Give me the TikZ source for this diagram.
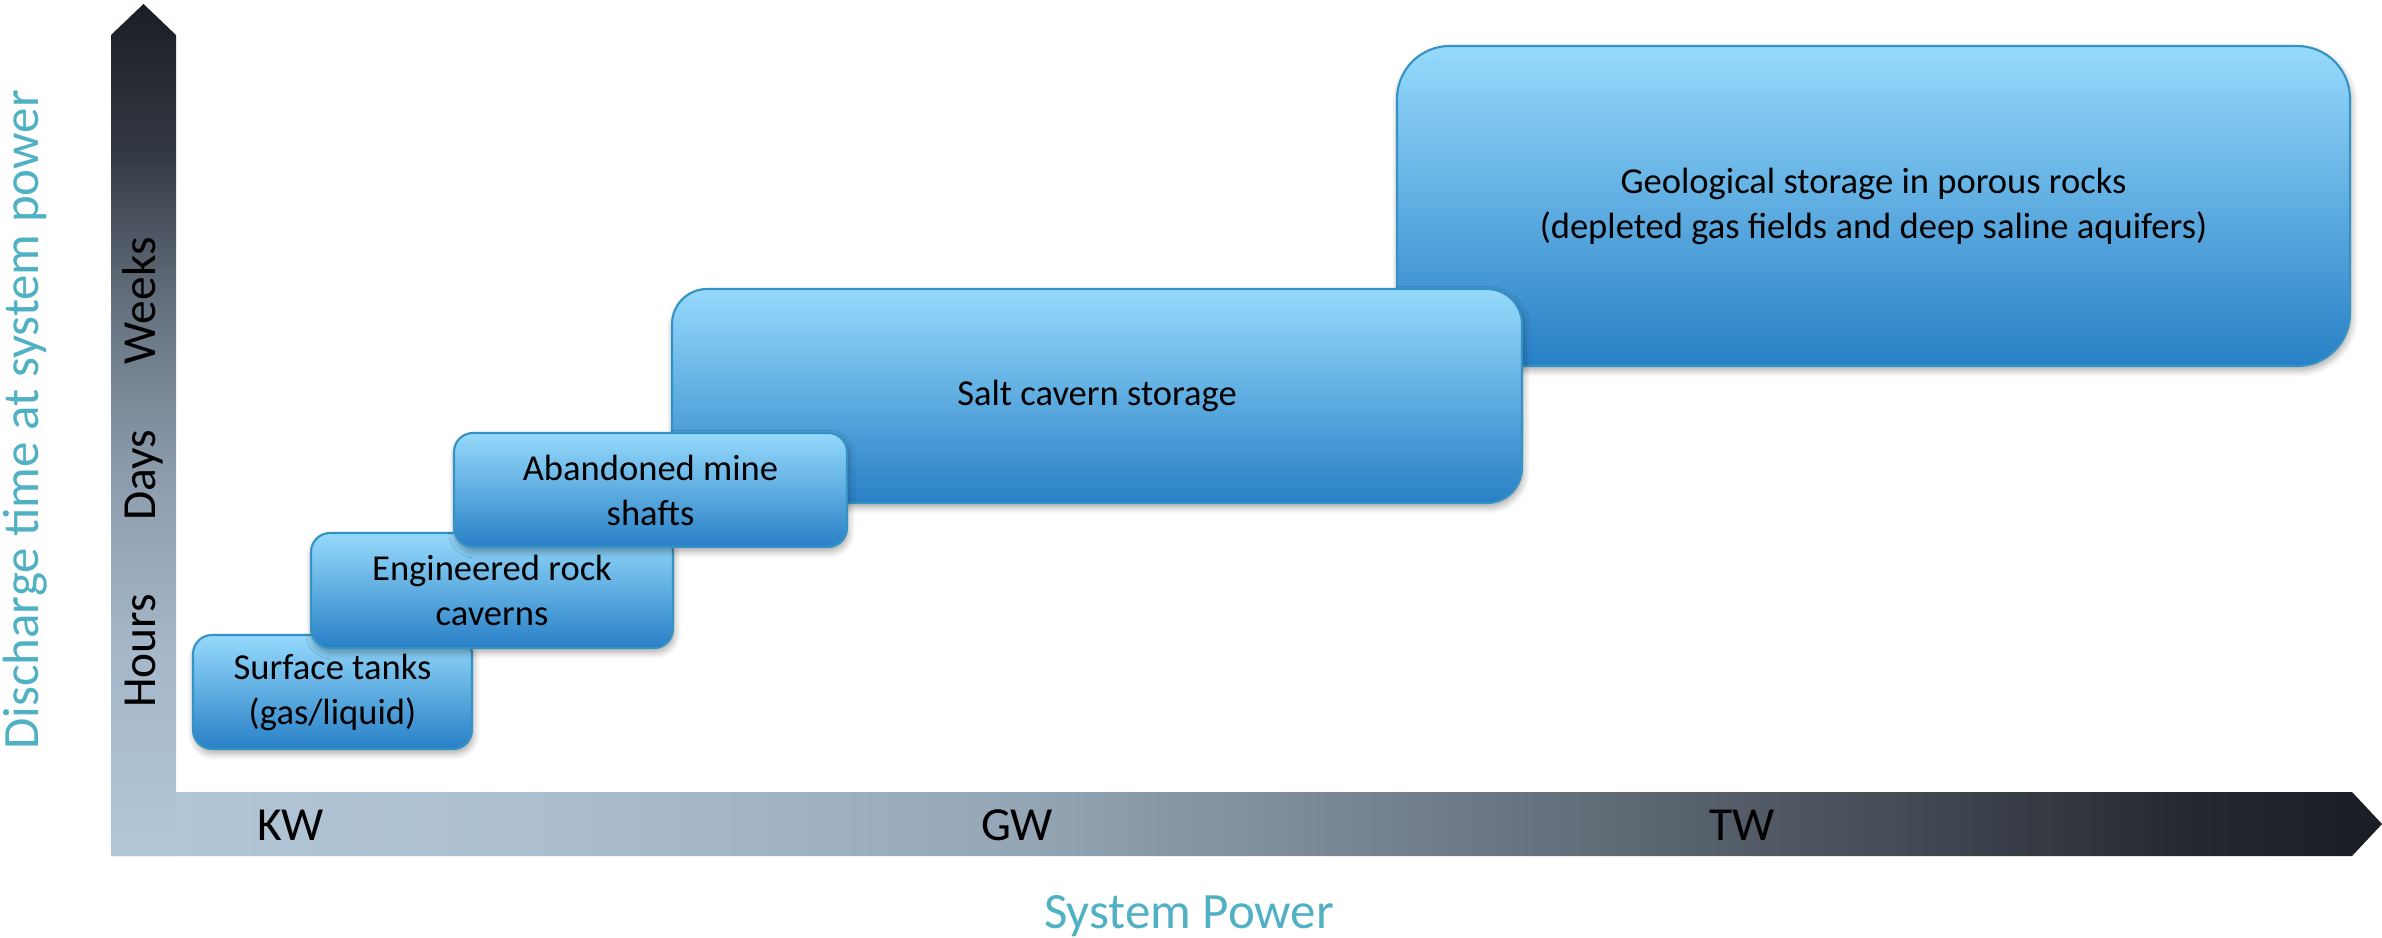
\documentclass[tikz,border=0pt]{standalone}
\usepackage{fontspec}
\setmainfont{Carlito}
\usepackage{xcolor}
\usepackage{tikz}
\usetikzlibrary{shadows.blur}

\definecolor{axlight}{RGB}{178,198,216}
\definecolor{axdark}{RGB}{26,29,36}
\definecolor{axh1}{RGB}{172,190,206}
\definecolor{axh2}{RGB}{150,168,183}
\definecolor{axh3}{RGB}{125,140,152}
\definecolor{axh4}{RGB}{72,80,90}
\definecolor{axh5}{RGB}{36,39,47}
\definecolor{axv1}{RGB}{165,183,200}
\definecolor{axv2}{RGB}{140,156,172}
\definecolor{axv3}{RGB}{100,112,126}
\definecolor{axv4}{RGB}{50,56,66}
\definecolor{boxtop}{RGB}{150,218,252}
\definecolor{boxbot}{RGB}{40,128,198}
\definecolor{boxedge}{RGB}{52,146,196}
\definecolor{titleteal}{RGB}{80,176,196}

\pgfdeclarehorizontalshading{powerbar}{100bp}{color(0bp)=(axlight); color(25bp)=(axlight);
  color(35bp)=(axh1); color(44.5bp)=(axh2); color(51bp)=(axh3); color(63.5bp)=(axh4);
  color(71bp)=(axh5); color(75bp)=(axdark); color(100bp)=(axdark)}
\pgfdeclareverticalshading{timebar}{100bp}{color(0bp)=(axlight); color(25bp)=(axlight);
  color(37bp)=(axv1); color(47.5bp)=(axv2); color(57.5bp)=(axv3); color(66.5bp)=(axv4);
  color(75bp)=(axdark); color(100bp)=(axdark)}

\begin{document}
\begin{tikzpicture}[
    box/.style={draw=boxedge, line width=0.6pt, top color=boxtop, bottom color=boxbot,
                align=center, inner sep=0pt, rounded corners=5.4pt,
                font=\fontsize{10.4}{12.8}\selectfont,
                blur shadow={shadow xshift=0.4pt, shadow yshift=-1.2pt, shadow blur steps=6, shadow opacity=35}},
    axlabel/.style={font=\fontsize{13.5}{15}\selectfont, inner sep=0pt},
    title/.style={font=\fontsize{14.5}{16}\selectfont, text=titleteal, inner sep=0pt}
  ]
    \useasboundingbox (0,0) rectangle (23.82,9.37);

    % axes
    \shade[shading=powerbar] (1.11,1.45) -- (23.52,1.45) -- (23.82,1.13) -- (23.52,0.81) -- (1.11,0.81) -- cycle;
    \shade[shading=timebar] (1.11,0.81) -- (1.11,9.02) -- (1.435,9.33) -- (1.76,9.02) -- (1.76,0.81) -- cycle;

    \node[axlabel, anchor=base] (kw) at (2.91,0.97) {KW};
    \node[axlabel, anchor=base] (gw) at (10.17,0.97) {GW};
    \node[axlabel, anchor=base] (tw) at (17.42,0.97) {TW};
    \node[axlabel, rotate=90, anchor=base] (hours) at (1.55,2.86) {Hours};
    \node[axlabel, rotate=90, anchor=base] (days) at (1.55,4.62) {Days};
    \node[axlabel, rotate=90, anchor=base] (weeks) at (1.55,6.36) {Weeks};

    \node[title, anchor=base] (xtitle) at (11.89,0.09) {System Power};
    \node[title, rotate=90, anchor=base] (ytitle) at (0.38,5.17) {Discharge time at system power};

    % storage options
    \node[box, minimum width=9.53cm, minimum height=3.20cm, rounded corners=15pt] (geo) at (18.735,7.31)
      {Geological storage in porous rocks\\(depleted gas fields and deep saline aquifers)};
    \node[box, minimum width=8.50cm, minimum height=2.14cm, rounded corners=10pt] (salt) at (10.97,5.41)
      {Salt cavern storage};
    \node[box, minimum width=2.79cm, minimum height=1.14cm] (tanks) at (3.325,2.45) {Surface tanks\\(gas/liquid)};
    \node[box, minimum width=3.62cm, minimum height=1.15cm] (rock) at (4.92,3.465) {Engineered rock\\caverns};
    \node[box, minimum width=3.93cm, minimum height=1.14cm] (mine) at (6.505,4.47) {Abandoned mine\\shafts};
\end{tikzpicture}
\end{document}
